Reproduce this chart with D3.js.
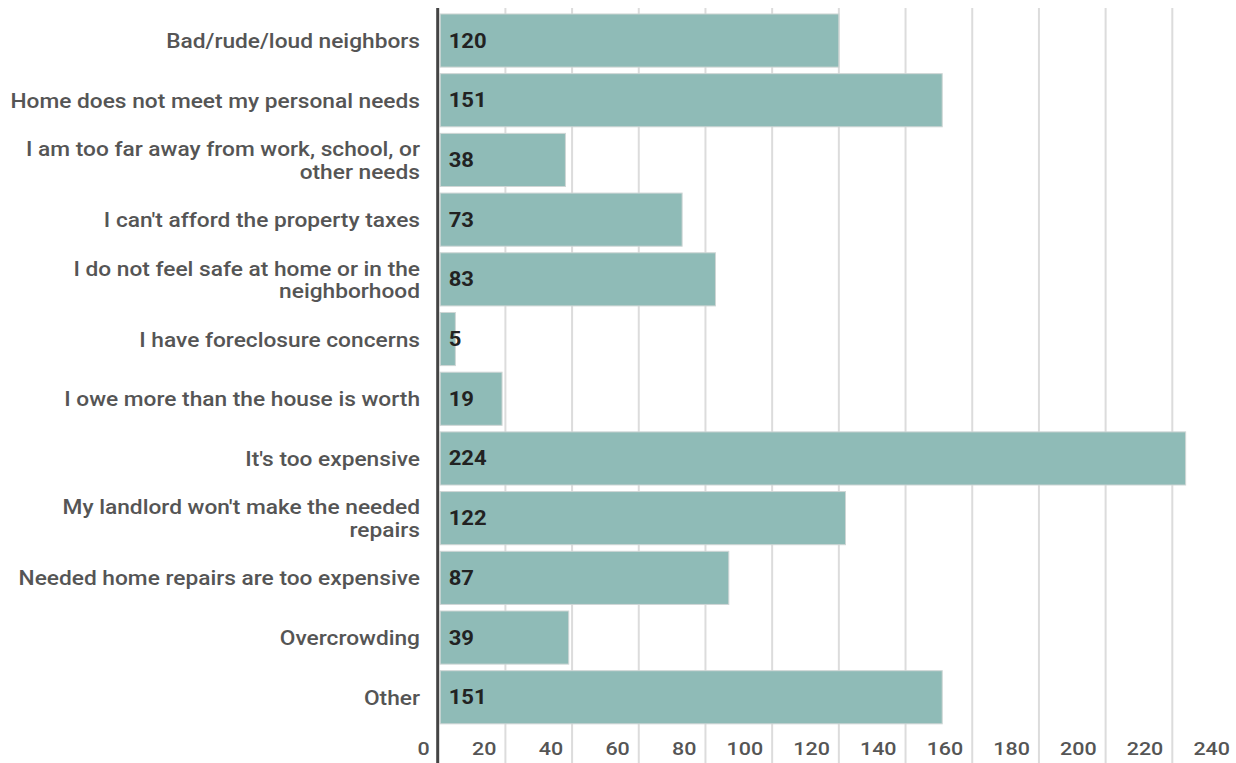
<!DOCTYPE html>
<html>
<head>
<meta charset="utf-8">
<script src="https://cdn.jsdelivr.net/npm/d3@7"></script>
<style>
  html, body { margin: 0; padding: 0; background: #fff; }
  svg { display: block; font-family: Roboto, "Noto Sans", sans-serif; }
</style>
</head>
<body>
<svg id="chart" width="1236" height="763"></svg>
<script>
const categories = [
  "Bad/rude/loud neighbors",
  "Home does not meet my personal needs",
  "I am too far away from work, school, or other needs",
  "I can't afford the property taxes",
  "I do not feel safe at home or in the neighborhood",
  "I have foreclosure concerns",
  "I owe more than the house is worth",
  "It's too expensive",
  "My landlord won't make the needed repairs",
  "Needed home repairs are too expensive",
  "Overcrowding",
  "Other"
];
const values = [120, 151, 38, 73, 83, 5, 19, 224, 122, 87, 39, 151];
const tickValues = [0, 20, 40, 60, 80, 100, 120, 140, 160, 180, 200, 220, 240];

const svg = d3.select("#chart");
const W = 1236, H = 763;
const SX = 1.13;   // horizontal text stretch seen in the reference
const SXC = 1.165; // stretch for category labels
const x0 = 438.7, x1 = 1239;
const x = d3.scaleLinear().domain([0, 240]).range([x0, x1]);
const y = d3.scaleBand().domain(categories).range([7.4, 730.4]).padding(0.11);

// gridlines
svg.append("g").selectAll("line").data(tickValues.filter(d => d > 0)).join("line")
  .attr("x1", d => x(d)).attr("x2", d => x(d))
  .attr("y1", 8).attr("y2", H)
  .attr("stroke", "#dcdcdc").attr("stroke-width", 2);

// bars
svg.append("g").selectAll("rect").data(values).join("rect")
  .attr("x", x(0) + 1.5)
  .attr("y", (d, i) => y(categories[i]))
  .attr("width", d => x(d) - x(0) - 1.5)
  .attr("height", y.bandwidth())
  .attr("fill", "#8fbbb7")
  .attr("stroke", "#cfd6d5").attr("stroke-width", 1);

// axis line
svg.append("line").attr("x1", x0 - 1).attr("x2", x0 - 1).attr("y1", 8).attr("y2", H)
  .attr("stroke", "#444").attr("stroke-width", 3);

// value labels
svg.append("g").selectAll("text").data(values).join("text")
  .attr("transform", (d, i) => `translate(${x(0) + 10},${y(categories[i]) + y.bandwidth() / 2 + 7}) scale(${SX},1)`)
  .attr("font-size", 19.5).attr("font-weight", 700).attr("fill", "#222")
  .text(d => d);

// tick labels
svg.append("g").selectAll("text").data(tickValues).join("text")
  .attr("transform", d => `translate(${x(d) - 9},755) scale(${SX + 0.03},1)`)
  .attr("text-anchor", "end")
  .attr("font-size", 18.5).attr("font-weight", 500).attr("fill", "#555")
  .text(d => d);

// category labels with wrapping
const maxW = 414, lineH = 22.5;
const labG = svg.append("g");
categories.forEach(c => {
  const cy = y(c) + y.bandwidth() / 2;
  const t = labG.append("text")
    .attr("transform", `translate(420,0) scale(${SXC},1)`)
    .attr("text-anchor", "end")
    .attr("font-size", 19.5).attr("font-weight", 500).attr("fill", "#555");
  const words = c.split(" ");
  const lines = [];
  let cur = [];
  const probe = t.append("tspan");
  words.forEach(w => {
    const test = cur.concat([w]).join(" ");
    probe.text(test);
    if (probe.node().getComputedTextLength() * SXC > maxW && cur.length) {
      lines.push(cur.join(" "));
      cur = [w];
    } else cur.push(w);
  });
  lines.push(cur.join(" "));
  probe.remove();
  const start = cy + 7.5 - (lines.length - 1) * lineH / 2;
  lines.forEach((ln, i) => {
    t.append("tspan").attr("x", 0).attr("y", start + i * lineH).text(ln);
  });
});
</script>
</body>
</html>
